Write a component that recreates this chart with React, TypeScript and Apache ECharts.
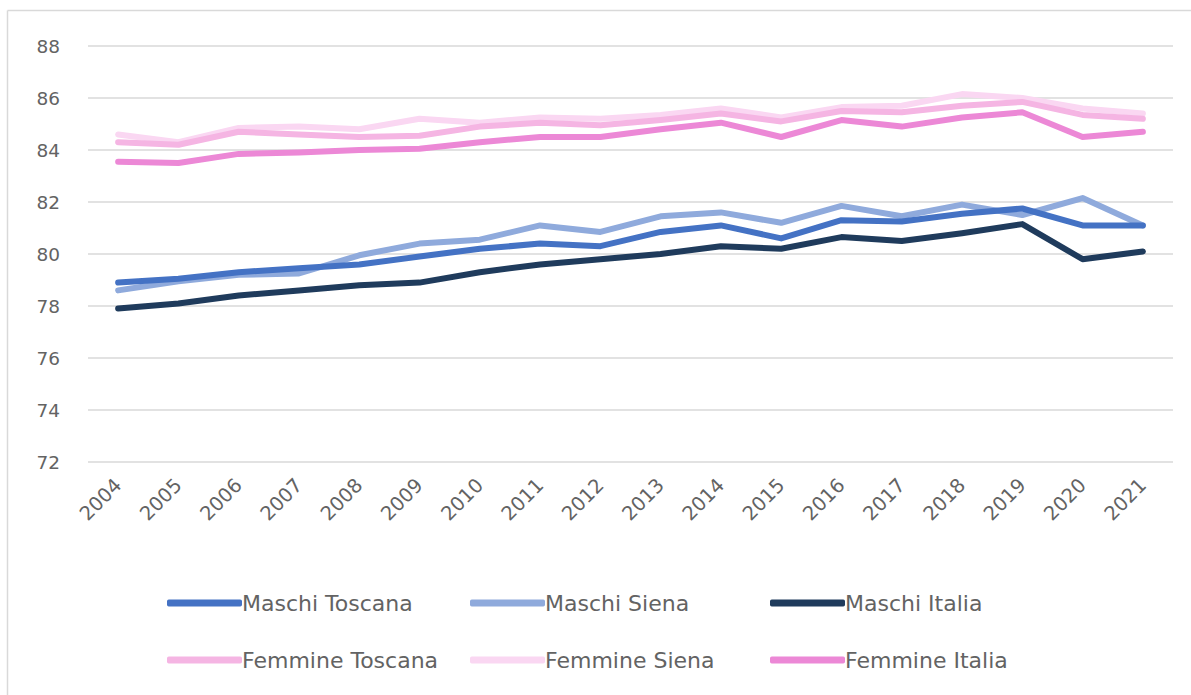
import React, { useEffect, useRef } from "react";
import * as echarts from "echarts";

const years = ["2004","2005","2006","2007","2008","2009","2010","2011","2012","2013","2014","2015","2016","2017","2018","2019","2020","2021"];

const maschiToscana = [78.9, 79.05, 79.3, 79.45, 79.6, 79.9, 80.2, 80.4, 80.3, 80.85, 81.1, 80.6, 81.3, 81.25, 81.55, 81.75, 81.1, 81.1];
const maschiSiena = [78.6, 78.95, 79.2, 79.25, 79.95, 80.4, 80.55, 81.1, 80.85, 81.45, 81.6, 81.2, 81.85, 81.45, 81.9, 81.5, 82.15, 81.1];
const maschiItalia = [77.9, 78.1, 78.4, 78.6, 78.8, 78.9, 79.3, 79.6, 79.8, 80.0, 80.3, 80.2, 80.65, 80.5, 80.8, 81.15, 79.8, 80.1];
const femmineToscana = [84.3, 84.2, 84.7, 84.6, 84.5, 84.55, 84.9, 85.05, 84.95, 85.15, 85.4, 85.1, 85.5, 85.45, 85.7, 85.85, 85.35, 85.2];
const femmineSiena = [84.6, 84.3, 84.85, 84.9, 84.8, 85.2, 85.05, 85.25, 85.2, 85.35, 85.6, 85.25, 85.65, 85.7, 86.15, 86.0, 85.6, 85.4];
const femmineItalia = [83.55, 83.5, 83.85, 83.9, 84.0, 84.05, 84.3, 84.5, 84.5, 84.8, 85.05, 84.5, 85.15, 84.9, 85.25, 85.45, 84.5, 84.7];

const seriesNames = ["Maschi Toscana", "Maschi Siena", "Maschi Italia", "Femmine Toscana", "Femmine Siena", "Femmine Italia"];
const seriesData = [maschiToscana, maschiSiena, maschiItalia, femmineToscana, femmineSiena, femmineItalia];
const seriesColors = ["#4472C4", "#8FAADC", "#1F3B5C", "#F5B5E3", "#FAD7F2", "#EC88D6"];

const legendPos = [
  { left: 162, top: 587 }, { left: 465, top: 587 }, { left: 765, top: 587 },
  { left: 162, top: 644 }, { left: 465, top: 644 }, { left: 765, top: 644 },
];

export default function App() {
  const ref = useRef<HTMLDivElement>(null);
  useEffect(() => {
    if (!ref.current) return;
    const chart = echarts.init(ref.current, null, { renderer: "svg" });
    const font = "DejaVu Sans";
    chart.setOption({
      animation: false,
      backgroundColor: "#ffffff",
      textStyle: { fontFamily: font },
      graphic: [
        { type: "line", shape: { x1: 7.5, y1: 10.5, x2: 1191, y2: 10.5 }, style: { stroke: "#d9d9d9", lineWidth: 1.5 } },
        { type: "line", shape: { x1: 7.5, y1: 10.5, x2: 7.5, y2: 695 }, style: { stroke: "#d9d9d9", lineWidth: 1.5 } },
      ],
      grid: { left: 88, right: 18, top: 46, bottom: 233, containLabel: false },
      legend: seriesNames.map((n, i) => ({
        data: [n],
        left: legendPos[i].left,
        top: legendPos[i].top,
        icon: "roundRect",
        itemWidth: 75,
        itemHeight: 7,
        itemGap: 0,
        textStyle: { color: "#636363", fontSize: 22, fontFamily: font, padding: [0, 0, 0, -5] },
        selectedMode: false,
      })),
      xAxis: {
        type: "category",
        data: years,
        boundaryGap: true,
        axisLine: { show: false },
        axisTick: { show: false },
        axisLabel: { rotate: 45, color: "#636363", fontSize: 19.5, fontFamily: font, margin: 20, interval: 0, padding: [0, 0, 0, 0] },
      },
      yAxis: {
        type: "value",
        min: 72,
        max: 88,
        interval: 2,
        axisLine: { show: false },
        axisTick: { show: false },
        axisLabel: { color: "#636363", fontSize: 18.5, fontFamily: font, margin: 28 },
        splitLine: { lineStyle: { color: "#d9d9d9", width: 1.5 } },
      },
      series: seriesNames.map((n, i) => ({
        name: n,
        type: "line",
        data: seriesData[i],
        symbol: "none",
        lineStyle: { color: seriesColors[i], width: 6, cap: "round", join: "round" },
        itemStyle: { color: seriesColors[i] },
        z: 10 - i,
      })),
    });
    return () => chart.dispose();
  }, []);
  return <div ref={ref} style={{ width: 1191, height: 695, position: "absolute", left: 0, top: 0 }} />;
}
